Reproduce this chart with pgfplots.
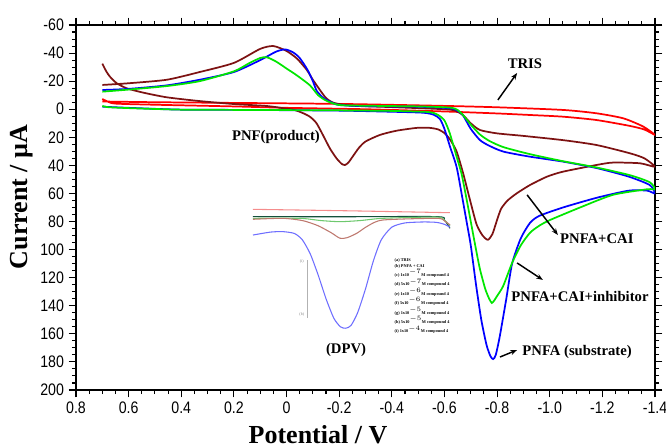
\documentclass[border=0pt]{standalone}
\usepackage{fontspec}
\setmainfont{Liberation Serif}
\newfontfamily\arialc[FakeStretch=0.85]{Liberation Sans}
\usepackage{pgfplots}
\pgfplotsset{compat=1.18}
\usetikzlibrary{arrows.meta,calc}
\definecolor{cvred}{RGB}{255,0,0}
\definecolor{cvblue}{RGB}{0,0,255}
\definecolor{cvgreen}{RGB}{0,230,0}
\definecolor{cvbrown}{RGB}{125,18,18}
\definecolor{inpink}{RGB}{245,140,140}
\definecolor{inrose}{RGB}{190,120,110}
\definecolor{inblue}{RGB}{110,110,255}
\definecolor{ingreen}{RGB}{40,160,60}
\definecolor{inlgreen}{RGB}{110,200,110}
\definecolor{indark}{RGB}{20,80,60}
\begin{document}
\begin{tikzpicture}
\begin{axis}[
  scale only axis, width=434.25pt, height=273.75pt,
  x dir=reverse, y dir=reverse,
  xmin=-1.4, xmax=0.8, ymin=-60, ymax=200,
  xtick={0.8,0.6,0.4,0.2,0,-0.2,-0.4,-0.6,-0.8,-1.0,-1.2,-1.4},
  xticklabels={0.8,0.6,0.4,0.2,0,-0.2,-0.4,-0.6,-0.8,-1.0,-1.2,-1.4},
  ytick={-60,-40,-20,0,20,40,60,80,100,120,140,160,180,200},
  yticklabels={-60,-40,-20,0,20,40,60,80,100,120,140,160,180,200},
  minor x tick num=3, minor y tick num=3,
  tick align=outside,
  major tick length=5.5pt, minor tick length=3pt,
  tick style={black, line width=0.8pt},
  axis line style={line width=2pt},
  tick label style={font=\arialc\fontsize{12.5}{12.5}\selectfont},
  xlabel={\bfseries Potential / V},
  ylabel={\bfseries Current / µA},
  label style={font=\fontsize{19.5}{19.5}\selectfont},
  xlabel style={at={(axis description cs:0.418,-0.146)}, anchor=base},
  ylabel style={at={(axis description cs:-0.093,0.529)}, anchor=center},
  every axis plot/.append style={line width=1.3pt, smooth, tension=0.4},
  clip=true,
]
% ---- inset (DPV) curves ----
\addplot[inpink, line width=0.8pt] coordinates {(0.1275,71.3)(-0.25,72.4)(-0.621,73.7)};
\addplot[indark, line width=0.8pt] coordinates {(0.1275,76.5)(-0.2,76.6)(-0.5705,76.5)(-0.60,79)(-0.621,84.8)};
\addplot[inlgreen, line width=0.8pt] coordinates {(0.1275,77.7)(-0.051,77.7)(-0.13,79.3)(-0.203,80.1)(-0.28,79.3)(-0.3665,77.7)(-0.5705,76.8)(-0.60,79)(-0.621,83)};
\addplot[inrose, line width=0.8pt] coordinates {(0.1275,78.4)(0.0135,77.7)(-0.0625,79.4)(-0.12,83)(-0.17,88)(-0.203,91.9)(-0.23,91.5)(-0.2665,88.4)(-0.31,83)(-0.3665,78.9)(-0.5705,77.7)(-0.60,79.5)(-0.621,82.4)};
\addplot[inblue, line width=0.8pt] coordinates {(0.1275,89.6)(0.06,87.5)(0.0135,87.2)(-0.03,88.5)(-0.06,93)(-0.09,103)(-0.12,118)(-0.15,135)(-0.18,149)(-0.205,155)(-0.225,156)(-0.245,154)(-0.27,145)(-0.30,128)(-0.33,108)(-0.36,93)(-0.40,84)(-0.45,81)(-0.52,80.3)(-0.57,80.6)(-0.60,82)(-0.621,84)};
\addplot[gray!60, line width=0.6pt, sharp plot] coordinates {(-0.078,107.4)(-0.078,148.7)};
% ---- main CV curves ----
\addplot[cvred] coordinates {(0.70,-7.3)(0.68,-5.5)(0.65,-4.0)(0.5,-3.2)(0.2,-2)(0,-1)(-0.3,0)(-0.6,1.6)(-0.8,3)(-0.925,4.1)(-1.05,5.3)(-1.178,7.7)(-1.305,11.9)(-1.36,14.5)(-1.4,18.3)
 (-1.356,12.4)(-1.28,6.5)(-1.178,2.9)(-1.05,0.5)(-0.798,-1.4)(-0.57,-2.5)(-0.2,-3.8)(0.2,-4.5)(0.5,-5)(0.7,-5.5)};
\addplot[cvbrown] coordinates {(0.70,-32.5)(0.685,-27)(0.671,-23.2)(0.645,-18.5)(0.607,-14.9)(0.544,-11.8)(0.455,-8.5)(0.33,-5.8)(0.2,-3.7)(0.075,-2.3)(0.012,-0.7)(-0.03,0.5)(-0.064,2.9)(-0.09,5.5)(-0.114,10)(-0.14,19)(-0.165,28)(-0.19,35)(-0.21,39)(-0.222,39.7)(-0.235,38)(-0.254,33)(-0.275,27.5)(-0.3,23)(-0.355,18.3)(-0.418,15.3)(-0.494,13.3)(-0.54,13.2)(-0.575,14.3)(-0.60,17)(-0.621,21.5)(-0.646,30)(-0.671,45.6)(-0.697,64.6)(-0.722,82)(-0.745,90)(-0.765,93)(-0.782,89)(-0.798,80)(-0.815,71)(-0.84,65)(-0.874,60)(-0.925,54)(-0.99,48)(-1.05,44.5)(-1.178,39.7)(-1.24,38)(-1.343,38.5)(-1.4,41)
 (-1.36,35)(-1.305,31.4)(-1.178,25.5)(-1.05,22)(-0.90,19)(-0.80,17.2)(-0.735,14.8)(-0.70,10)(-0.67,4.1)(-0.64,1)(-0.6,0)(-0.4,-1.5)(-0.25,-2.5)(-0.18,-4.5)(-0.15,-8)(-0.127,-13.7)(-0.10,-21)(-0.077,-28)(-0.04,-36)(0.0,-41.5)(0.05,-45)(0.1,-43)(0.2,-33)(0.33,-26.5)(0.455,-21)(0.6,-18.5)(0.7,-17.3)};
\addplot[cvblue] coordinates {(0.70,-1.8)(0.6,-1.0)(0.4,0.3)(0.14,0.5)(-0.2,1.0)(-0.4,1.8)(-0.52,2.5)(-0.56,4)(-0.583,7)(-0.60,14)(-0.62,26)(-0.646,41)(-0.665,60)(-0.686,82)(-0.70,97)(-0.72,125)(-0.74,150)(-0.76,168)(-0.775,176)(-0.785,178)(-0.795,175)(-0.81,162)(-0.835,135)(-0.857,110)(-0.89,92)(-0.925,81)(-0.96,76)(-1.05,70)(-1.18,63)(-1.3,58)(-1.37,58)(-1.4,60)
 (-1.38,54)(-1.3,48)(-1.18,42)(-1.05,37.3)(-0.925,33.8)(-0.824,30.2)(-0.77,26)(-0.735,22)(-0.70,14)(-0.671,4.5)(-0.65,1)(-0.62,-0.7)(-0.5,-1.8)(-0.3,-2.2)(-0.2,-3)(-0.165,-5.4)(-0.14,-8)(-0.115,-13)(-0.10,-20)(-0.08,-28)(-0.05,-36.5)(-0.025,-40.5)(0.005,-42.6)(0.04,-41)(0.10,-35)(0.2,-26.5)(0.33,-21)(0.455,-17)(0.6,-14.5)(0.7,-13.7)};
\addplot[cvgreen] coordinates {(0.70,-2.4)(0.68,-1.5)(0.6,-0.8)(0.4,0.3)(0.14,0.5)(-0.2,0.8)(-0.4,1.2)(-0.54,2)(-0.575,4)(-0.60,8)(-0.62,17)(-0.645,33)(-0.665,46)(-0.685,65)(-0.70,80)(-0.72,100)(-0.735,114)(-0.755,128)(-0.77,135)(-0.78,138)(-0.79,136)(-0.80,133)(-0.823,126)(-0.857,109.5)(-0.89,97)(-0.925,88)(-0.96,83)(-1.0,79)(-1.115,70)(-1.24,61)(-1.37,57)(-1.4,57)
 (-1.38,52)(-1.305,47)(-1.178,41.5)(-1.05,37)(-0.925,32)(-0.824,27)(-0.77,22.5)(-0.735,18)(-0.70,11)(-0.67,4)(-0.65,0.5)(-0.62,-1.2)(-0.5,-2)(-0.3,-2.5)(-0.2,-3)(-0.152,-6)(-0.12,-10)(-0.089,-17)(-0.04,-24)(0.0,-29)(0.04,-34)(0.075,-37)(0.10,-36.5)(0.14,-33)(0.2,-27)(0.33,-20)(0.455,-16.5)(0.6,-14)(0.7,-12.5)};
% ---- annotations ----
\node[font=\bfseries\fontsize{11}{11}\selectfont] at (axis cs:-0.906,-32.2) {TRIS};
\draw[line width=1.1pt, -{Stealth[length=5pt]}] (axis cs:-0.803,-6.6) -- (axis cs:-0.876,-25.8);
\node[font=\bfseries\fontsize{11}{11}\selectfont] at (axis cs:0.04,19.8) {PNF(product)};
\node[font=\bfseries\fontsize{11}{11}\selectfont] at (axis cs:-1.179,92.4) {PNFA+CAI};
\draw[line width=1.1pt, -{Stealth[length=5pt]}] (axis cs:-0.914,61) -- (axis cs:-1.031,89.6);
\node[font=\bfseries\fontsize{11}{11}\selectfont] at (axis cs:-1.115,133.7) {PNFA+CAI+inhibitor};
\draw[line width=1.1pt, -{Stealth[length=5pt]}] (axis cs:-0.876,109.5) -- (axis cs:-0.974,121.6);
\node[font=\bfseries\fontsize{11}{11}\selectfont] at (axis cs:-1.104,172.9) {PNFA (substrate)};
\draw[line width=1.1pt, -{Stealth[length=5pt]}] (axis cs:-0.811,176.5) -- (axis cs:-0.876,171.5);
\node[font=\bfseries\fontsize{11}{11}\selectfont] at (axis cs:-0.226,171.5) {(DPV)};
% inset scale labels and legend
\node[font=\fontsize{3}{3}\selectfont, gray] at (axis cs:-0.058,108.5) {(i)};
\node[font=\fontsize{3}{3}\selectfont, gray] at (axis cs:-0.058,146.5) {(b)};
\node[anchor=north west, inner sep=0pt, align=left, font=\bfseries\fontsize{3.2}{4.4}\selectfont] at (axis cs:-0.41,106) {(a) TRIS\\(b) PNFA + CAI\\(c) 1x10$^{-7}$M compound 4\\(d) 5x10$^{-7}$M compound 4\\(e) 1x10$^{-6}$M compound 4\\(f) 5x10$^{-6}$M compound 4\\(g) 1x10$^{-5}$M compound 4\\(h) 5x10$^{-5}$M compound 4\\(i) 1x10$^{-4}$M compound 4};
\end{axis}
\pgfresetboundingbox
\path[use as bounding box] ($(current axis.south west)+(-57pt,-43.5pt)$) rectangle ($(current axis.north east)+(8.25pt,18.75pt)$);
\end{tikzpicture}
\end{document}
